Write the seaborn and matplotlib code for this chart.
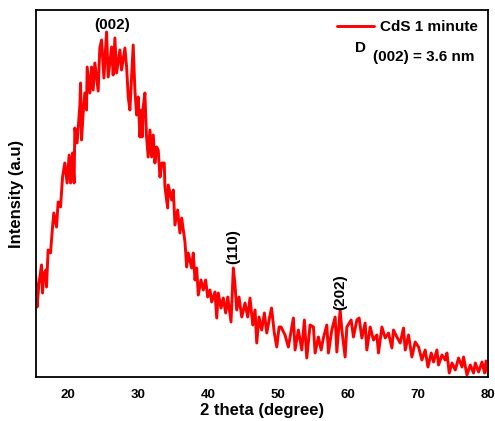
import numpy as np
import pandas as pd
import seaborn as sns
import matplotlib.pyplot as plt
from matplotlib.ticker import MultipleLocator

# XRD pattern (intensity in arbitrary units)
two_theta = [15.47, 15.66, 15.9, 16.29, 16.43, 16.6, 16.9, 17.0, 17.23, 17.57,
             17.86, 18.04, 18.43, 18.66, 19.0, 19.29, 19.61, 19.94, 20.23, 20.43,
             20.71, 20.94, 21.04, 21.37, 21.76, 21.86, 22.0, 22.23, 22.47, 22.71,
             22.8, 23.19, 23.43, 23.66, 23.9, 24.37, 24.61, 24.86, 25.19, 25.57,
             25.8, 26.29, 26.51, 26.76, 27.0, 27.47, 27.71, 28.19, 28.43, 28.66,
             28.9, 29.37, 29.61, 29.86, 30.09, 30.33, 30.57, 30.66, 30.8, 31.04,
             31.26, 31.51, 31.76, 32.0, 32.23, 32.47, 32.71, 32.94, 33.09, 33.19,
             33.47, 33.8, 33.9, 34.29, 34.37, 34.86, 35.09, 35.33, 35.71, 36.04,
             36.29, 36.76, 37.0, 37.23, 37.71, 37.94, 38.19, 38.43, 38.66, 39.04,
             39.37, 39.71, 40.0, 40.33, 40.57, 41.04, 41.29, 41.51, 41.9, 42.23,
             42.57, 42.86, 43.33, 43.66, 43.9, 44.14, 44.47, 44.86, 45.33, 45.71,
             46.04, 46.43, 46.76, 47.0, 47.33, 47.71, 48.09, 48.43, 48.9, 49.11,
             49.51, 49.86, 50.19, 50.47, 51.04, 51.51, 52.23, 52.47, 52.94, 53.43,
             53.8, 54.14, 54.61, 55.09, 55.33, 55.8, 56.19, 56.51, 57.0, 57.23,
             57.71, 58.19, 58.43, 58.9, 59.14, 59.61, 59.86, 60.47, 60.8, 61.29,
             61.61, 62.0, 62.47, 62.71, 63.19, 63.66, 64.14, 64.37, 64.86, 65.33,
             65.8, 66.29, 66.51, 67.0, 67.47, 67.94, 68.19, 68.66, 69.14, 69.61,
             70.09, 70.57, 71.04, 71.43, 71.9, 72.23, 72.71, 72.94, 73.43, 73.9,
             74.14, 74.47, 74.86, 75.33, 75.8, 76.29, 76.51, 77.0, 77.47, 77.94,
             78.19, 78.66, 79.14, 79.51, 79.71, 80.0]
intensity = [100, 70, 92, 112, 84, 102, 107, 90, 127, 124,
             150, 164, 150, 175, 170, 200, 214, 194, 222, 194,
             224, 194, 249, 234, 272, 294, 237, 264, 284, 267,
             310, 284, 310, 287, 314, 286, 329, 337, 299, 345,
             300, 330, 302, 339, 304, 327, 307, 329, 310, 280,
             267, 332, 287, 262, 280, 240, 267, 240, 270, 284,
             242, 220, 247, 220, 242, 214, 230, 227, 210, 200,
             214, 214, 190, 169, 192, 177, 187, 152, 167, 144,
             159, 135, 110, 124, 109, 124, 97, 109, 82, 97,
             87, 97, 80, 87, 75, 85, 59, 84, 69, 79,
             64, 80, 55, 109, 92, 67, 80, 60, 74, 60,
             79, 52, 67, 34, 60, 47, 64, 44, 62, 69,
             44, 30, 50, 50, 42, 30, 59, 27, 47, 27,
             57, 19, 52, 50, 24, 40, 27, 39, 52, 24,
             47, 60, 25, 67, 47, 20, 50, 57, 40, 57,
             59, 39, 54, 27, 50, 37, 42, 24, 50, 39,
             44, 29, 47, 40, 34, 49, 27, 42, 20, 35,
             30, 17, 27, 10, 24, 15, 27, 12, 22, 17,
             24, 4, 14, 7, 19, 10, 20, 2, 12, 4,
             14, 5, 15, 4, 16, 4]

peak_labels = ["(002)", "(110)", "(202)"]
peak_pos = [26.3, 43.66, 58.9]
peak_height = [352, 130, 85]

df = pd.DataFrame({"2 theta": two_theta, "Intensity": intensity})

sns.set_style("white")
plt.rcParams["font.family"] = ["Liberation Sans", "DejaVu Sans"]
plt.rcParams["font.weight"] = "bold"
plt.rcParams["text.color"] = "black"
plt.rcParams["axes.labelcolor"] = "black"
plt.rcParams["xtick.color"] = "black"

fig = plt.figure(figsize=(4.95, 4.21), dpi=100)
ax = fig.add_axes([36 / 495, 44 / 421, 452 / 495, 367 / 421])

sns.lineplot(data=df, x="2 theta", y="Intensity", color="red", lw=2.1,
             label="CdS 1 minute", ax=ax, sort=False)

ax.set_xlim(15.5, 80)
ax.set_ylim(0, 367)
ax.xaxis.set_major_locator(MultipleLocator(10))
ax.xaxis.set_minor_locator(MultipleLocator(5))
ax.set_yticks(np.arange(40, 368, 81.75))
ax.set_yticklabels([])

for sp in ax.spines.values():
    sp.set_color("black")
    sp.set_linewidth(1.3)
    sp.set_visible(True)

ax.tick_params(axis="x", which="major", direction="out", length=5, width=1.3,
               labelsize=9.5, pad=4, colors="black")
ax.tick_params(axis="x", which="minor", direction="out", length=3, width=1.1)
ax.tick_params(axis="y", which="major", direction="in", length=2, width=0.6,
               color="gray")
for lab in ax.get_xticklabels():
    lab.set_fontweight("bold")

ax.set_xlabel("2 theta (degree)", fontsize=12, fontweight="bold", labelpad=1)
ax.set_ylabel("Intensity (a.u)", fontsize=12, fontweight="bold", labelpad=5)

for lab, xp, h in zip(peak_labels, peak_pos, peak_height):
    rot = 0 if lab == "(002)" else 90
    ax.text(xp, h, lab, ha="center", va="center", rotation=rot,
            fontsize=11, fontweight="bold")

leg = ax.legend(loc="upper right", frameon=False, fontsize=11,
                handlelength=2.4, handletextpad=0.4,
                bbox_to_anchor=(1.0, 1.0), borderaxespad=0.25)
for t in leg.get_texts():
    t.set_fontweight("bold")
    t.set_color("black")

ax.text(0.717, 0.896, "D", transform=ax.transAxes, ha="center", va="center",
        fontsize=11, fontweight="bold")
ax.text(0.971, 0.872, "(002) = 3.6 nm", transform=ax.transAxes, ha="right",
        va="center", fontsize=11, fontweight="bold")

fig.savefig("out.png", dpi=100)
